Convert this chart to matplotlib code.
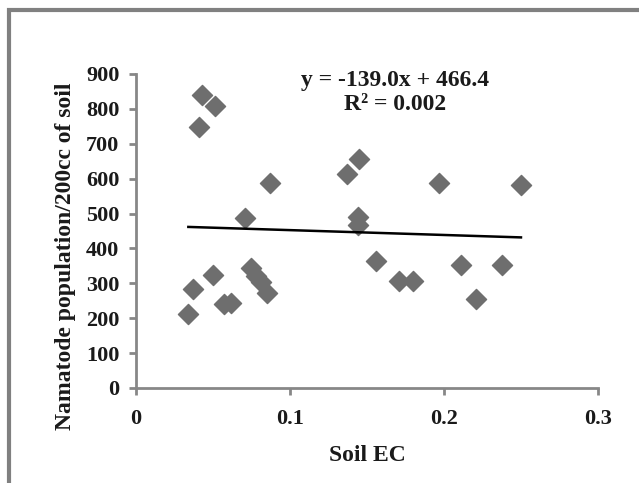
import matplotlib.pyplot as plt
import matplotlib.patches as patches

# values
soil_ec = [0.034, 0.037, 0.041, 0.043, 0.050, 0.051, 0.057, 0.062, 0.071,
           0.075, 0.078, 0.081, 0.085, 0.087, 0.137, 0.145, 0.144, 0.144,
           0.156, 0.171, 0.180, 0.197, 0.211, 0.221, 0.238, 0.250]
nematodes = [211, 283, 749, 840, 325, 807, 240, 243, 488,
             343, 322, 303, 272, 588, 613, 655, 490, 468,
             363, 307, 307, 588, 353, 256, 353, 581]
slope = -139.0
intercept = 466.4
r2 = 0.002
xticks = [0, 0.1, 0.2, 0.3]
xticklabels = ['0', '0.1', '0.2', '0.3']
yticks = [0, 100, 200, 300, 400, 500, 600, 700, 800, 900]

plt.rcParams['font.family'] = ['Liberation Serif', 'DejaVu Serif']
plt.rcParams['font.weight'] = 'bold'

fig = plt.figure(figsize=(6.39, 4.83), dpi=100)
fig.patches.append(patches.Rectangle((0.014, -0.1), 1.2, 1.08, transform=fig.transFigure,
                                     fill=False, edgecolor='#808080', linewidth=3))
ax = fig.add_axes([0.2128, 0.1967, 0.7230, 0.6501])

ax.scatter(soil_ec, nematodes, marker='D', s=105, color='#6e6e6e', zorder=3)
x0, x1 = min(soil_ec), max(soil_ec)
ax.plot([x0, x1], [slope * x0 + intercept, slope * x1 + intercept],
        color='black', linewidth=1.8, zorder=4)

ax.set_xlim(0, 0.3)
ax.set_ylim(0, 900)
ax.set_xticks(xticks)
ax.set_xticklabels(xticklabels)
ax.set_yticks(yticks)
for s in ['top', 'right']:
    ax.spines[s].set_visible(False)
for s in ['left', 'bottom']:
    ax.spines[s].set_color('#878787')
    ax.spines[s].set_linewidth(2)
ax.tick_params(direction='out', length=5, width=2, color='#878787',
               labelsize=16, labelcolor='#1a1a1a', pad=7)
ax.tick_params(axis='x', pad=10)
for lab in ax.get_xticklabels() + ax.get_yticklabels():
    lab.set_fontweight('bold')

ax.set_xlabel('Soil EC', fontsize=17, fontweight='bold', color='#1a1a1a')
ax.set_ylabel('Namatode population/200cc of soil', fontsize=17, fontweight='bold',
              color='#1a1a1a')
ax.xaxis.set_label_coords(0.5, -0.18)
ax.yaxis.set_label_coords(-0.13, 0.42)

ax.text(0.56, 0.94, 'y = %.1fx + %.1f\nR² = %.3f' % (slope, intercept, r2),
        transform=ax.transAxes, ha='center', va='center', fontsize=17,
        fontweight='bold', color='#1a1a1a', linespacing=1.2)

fig.savefig('out.png', dpi=100)
